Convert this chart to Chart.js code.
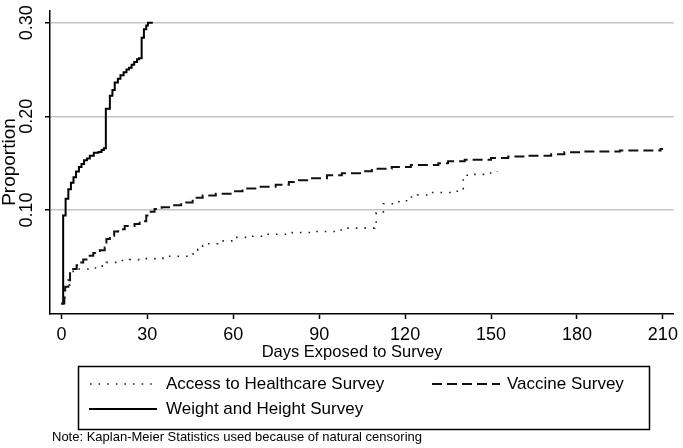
<!DOCTYPE html>
<html><head><meta charset="utf-8">
<script src="https://cdn.jsdelivr.net/npm/chart.js@4/dist/chart.umd.min.js"></script>
<style>html,body{margin:0;padding:0;background:#fff}#wrap{width:683px;height:448px;position:relative}</style>
</head><body><div id="wrap"><canvas id="c" width="683" height="448"></canvas></div>
<script>
// ---- data ----
const xTicks = [0, 30, 60, 90, 120, 150, 180, 210];
const yTicks = [0.10, 0.20, 0.30];
const yTickLabels = ['0.10', '0.20', '0.30'];
const seriesLabels = ['Access to Healthcare Survey', 'Vaccine Survey', 'Weight and Height Survey'];
const xTitle = 'Days Exposed to Survey';
const yTitle = 'Proportion';
const noteText = 'Note: Kaplan-Meier Statistics used because of natural censoring';

const accessDays = [0, 1.2, 3.0, 4.1, 5.8, 9.3, 12.2, 15.7, 19.7, 23.8, 29.0, 35.4, 45.8, 47.6, 49.3, 51.0, 54.5, 60.3, 65.5, 70.7, 80.6, 87.5, 97.7, 109.3, 109.9, 112.4, 116.2, 120.5, 124.3, 129.0, 136.0, 140.3, 143.7, 148.0, 151.3, 152.2];
const accessProp = [0.000, 0.020, 0.030, 0.0355, 0.037, 0.038, 0.040, 0.044, 0.046, 0.047, 0.048, 0.0506, 0.053, 0.058, 0.062, 0.064, 0.067, 0.0707, 0.072, 0.074, 0.076, 0.077, 0.0806, 0.0813, 0.097, 0.1067, 0.1088, 0.1138, 0.116, 0.1187, 0.120, 0.137, 0.138, 0.1395, 0.140, 0.141];

const vaccineDays = [0, 1.0, 1.3, 2.4, 3.0, 4.1, 5.3, 6.4, 7.6, 9.3, 11.1, 13.4, 15.1, 15.7, 16.9, 18.4, 19.8, 22.1, 25.5, 27.3, 29.6, 30.8, 32.5, 35.0, 38.3, 41.8, 45.8, 49.3, 53.9, 59.7, 63.2, 69.0, 74.8, 79.4, 82.9, 87.5, 92.7, 97.9, 104.9, 108.4, 115.3, 122.0, 131.6, 135.0, 140.8, 150.0, 156.0, 162.0, 171.0, 175.6, 181.4, 195.0, 209.2, 210.0];
const vaccineProp = [0.000, 0.014, 0.018, 0.025, 0.034, 0.037, 0.041, 0.044, 0.047, 0.051, 0.054, 0.057, 0.060, 0.069, 0.0725, 0.077, 0.0795, 0.083, 0.085, 0.088, 0.094, 0.098, 0.101, 0.103, 0.105, 0.108, 0.113, 0.1155, 0.1173, 0.120, 0.123, 0.1247, 0.127, 0.130, 0.1317, 0.134, 0.137, 0.1393, 0.1413, 0.144, 0.1458, 0.148, 0.150, 0.152, 0.1536, 0.1554, 0.157, 0.158, 0.1596, 0.1617, 0.1624, 0.1635, 0.165, 0.165];

const weightDays = [0, 0.6, 1.45, 2.4, 3.3, 4.2, 5.1, 6.1, 7.0, 7.9, 8.9, 9.9, 11.3, 12.9, 14.0, 14.8, 15.5, 16.9, 17.8, 18.6, 19.7, 20.6, 21.7, 22.7, 23.6, 24.5, 25.4, 26.4, 27.1, 28.0, 28.8, 29.6, 30.2, 31.9];
const weightProp = [0.000, 0.094, 0.112, 0.122, 0.129, 0.135, 0.141, 0.146, 0.149, 0.153, 0.155, 0.158, 0.161, 0.162, 0.164, 0.166, 0.208, 0.222, 0.228, 0.236, 0.240, 0.244, 0.247, 0.250, 0.252, 0.255, 0.258, 0.261, 0.262, 0.284, 0.293, 0.297, 0.300, 0.300];

// ---- build ----
const pts = (d, v) => d.map((x, i) => ({x: x, y: v[i]}));
const FONT = '"Liberation Sans", Arial, sans-serif';

const textPlugin = {
  id: 'textPlugin',
  afterDraw(chart) {
    const ctx = chart.ctx;
    ctx.save();
    ctx.fillStyle = '#000';
    ctx.font = '16.5px ' + FONT;
    ctx.textAlign = 'center';
    ctx.textBaseline = 'middle';
    ctx.fillText(xTitle, 352, 352);
    ctx.save();
    ctx.translate(10, 162);
    ctx.rotate(-Math.PI / 2);
    ctx.font = '19px ' + FONT;
    ctx.fillText(yTitle, 0, 0);
    ctx.restore();
    ctx.lineWidth = 1.5;
    ctx.strokeStyle = '#000';
    ctx.strokeRect(78.5, 366.5, 571, 63);
    const items = [
      {ds: 0, x1: 90, x2: 152, tx: 166, y: 384},
      {ds: 1, x1: 432, x2: 500, tx: 507, y: 384},
      {ds: 2, x1: 89, x2: 157, tx: 166, y: 409}
    ];
    ctx.font = '17px ' + FONT;
    ctx.textAlign = 'left';
    items.forEach(it => {
      const d = chart.data.datasets[it.ds];
      ctx.save();
      ctx.strokeStyle = d.borderColor;
      ctx.lineWidth = d.borderWidth;
      ctx.setLineDash(d.borderDash || []);
      ctx.beginPath();
      ctx.moveTo(it.x1, it.y);
      ctx.lineTo(it.x2, it.y);
      ctx.stroke();
      ctx.restore();
      ctx.fillText(d.label, it.tx, it.y);
    });
    ctx.font = '13px ' + FONT;
    ctx.fillText(noteText, 52, 437);
    ctx.restore();
  }
};

new Chart(document.getElementById('c'), {
  type: 'line',
  data: {
    datasets: [
      {label: seriesLabels[0], data: pts(accessDays, accessProp), borderColor: '#222', borderWidth: 1.6, borderDash: [1.6, 7], stepped: true, pointRadius: 0, fill: false},
      {label: seriesLabels[1], data: pts(vaccineDays, vaccineProp), borderColor: '#111', borderWidth: 2, borderDash: [10, 5], stepped: true, pointRadius: 0, fill: false},
      {label: seriesLabels[2], data: pts(weightDays, weightProp), borderColor: '#000', borderWidth: 2, stepped: true, pointRadius: 0, fill: false}
    ]
  },
  options: {
    responsive: false,
    animation: false,
    devicePixelRatio: 1,
    layout: {padding: {left: 0, top: 8, right: 6, bottom: 94}},
    plugins: {legend: {display: false}, tooltip: {enabled: false}},
    scales: {
      x: {
        type: 'linear', min: -4.0, max: 213.8,
        afterBuildTicks: s => { s.ticks = xTicks.map(v => ({value: v})); },
        afterFit: s => { s.height = 40; },
        grid: {drawOnChartArea: false, drawTicks: true, tickLength: 5, tickColor: '#000', tickWidth: 1.5},
        border: {display: true, color: '#000', width: 1.5},
        ticks: {color: '#000', font: {family: FONT, size: 18}, padding: 5, maxRotation: 0, minRotation: 0, autoSkip: false,
                callback: v => String(v)}
      },
      y: {
        type: 'linear', min: -0.0111, max: 0.3127,
        afterBuildTicks: s => { s.ticks = yTicks.map(v => ({value: v})); },
        afterFit: s => { s.width = 50; },
        grid: {color: '#c4c4c4', lineWidth: 1.5, drawTicks: true, tickLength: 5, tickColor: '#000', tickWidth: 1.5},
        border: {display: true, color: '#000', width: 1.5},
        ticks: {color: '#000', font: {family: FONT, size: 18}, padding: 0, minRotation: 90, maxRotation: 90, crossAlign: 'center', autoSkip: false,
                callback: v => { const i = yTicks.findIndex(t => Math.abs(t - v) < 1e-9); return i >= 0 ? yTickLabels[i] : ''; }}
      }
    }
  },
  plugins: [textPlugin]
});
</script></body></html>
